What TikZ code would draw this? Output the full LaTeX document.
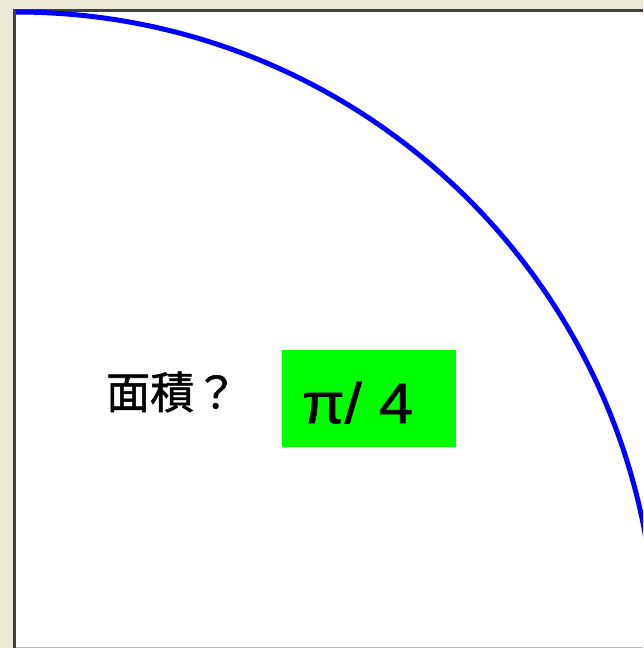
\documentclass[tikz,border=0pt]{standalone}
\usepackage{fontspec}
\setmainfont{Liberation Sans}
\newfontfamily\cjk[FakeBold=1.2]{Noto Sans CJK JP}
\newfontfamily\valfont[FakeBold=1.2, FakeStretch=1.08]{Liberation Sans}
\usepackage{xcolor}
\definecolor{winbg}{HTML}{ECE9D8}
\definecolor{frameline}{HTML}{404040}
\definecolor{arcblue}{HTML}{0000FF}
\definecolor{boxgreen}{HTML}{00FF00}
\tikzset{
    areatext/.style={anchor=west, inner sep=0pt, font=\cjk\fontsize{44}{44}\selectfont},
    valbox/.style={fill=boxgreen, minimum width=174pt, minimum height=97pt, inner sep=0pt},
    valtext/.style={anchor=base west, inner sep=0pt, font=\valfont\fontsize{57}{57}\selectfont}
}

\begin{document}
\begin{tikzpicture}[x=1pt,y=-1pt]
    % 定义点
    \coordinate (TL) at (0,0);
    \coordinate (BR) at (643,648);
    \coordinate (WA) at (16,12);
    \coordinate (WB) at (643,647);
    \useasboundingbox (TL) rectangle (BR);

    % 窗口背景与边框
    \fill[winbg] (TL) rectangle (BR);
    \fill[white] (WA) rectangle (WB);
    \fill[frameline] (13,9) rectangle (643,12);
    \fill[frameline] (13,9) rectangle (16,648);
    \fill[gray!55] (16,647) rectangle (643,648);

    % 四分之一圆弧 (圆心 (16,652), 半径 640)
    \begin{scope}
        \clip (16,9) rectangle (643,647);
        \draw[arcblue, line width=5pt] (WA) arc[start angle=270, end angle=360, radius=640];
    \end{scope}

    % 文字
    \node[areatext] (area) at (106,392) {面積？};
    \node[valbox] (val) at (369,398.5) {};
    \node[valtext] (valtxt) at (302,423) {π/ 4};

\end{tikzpicture}
\end{document}
